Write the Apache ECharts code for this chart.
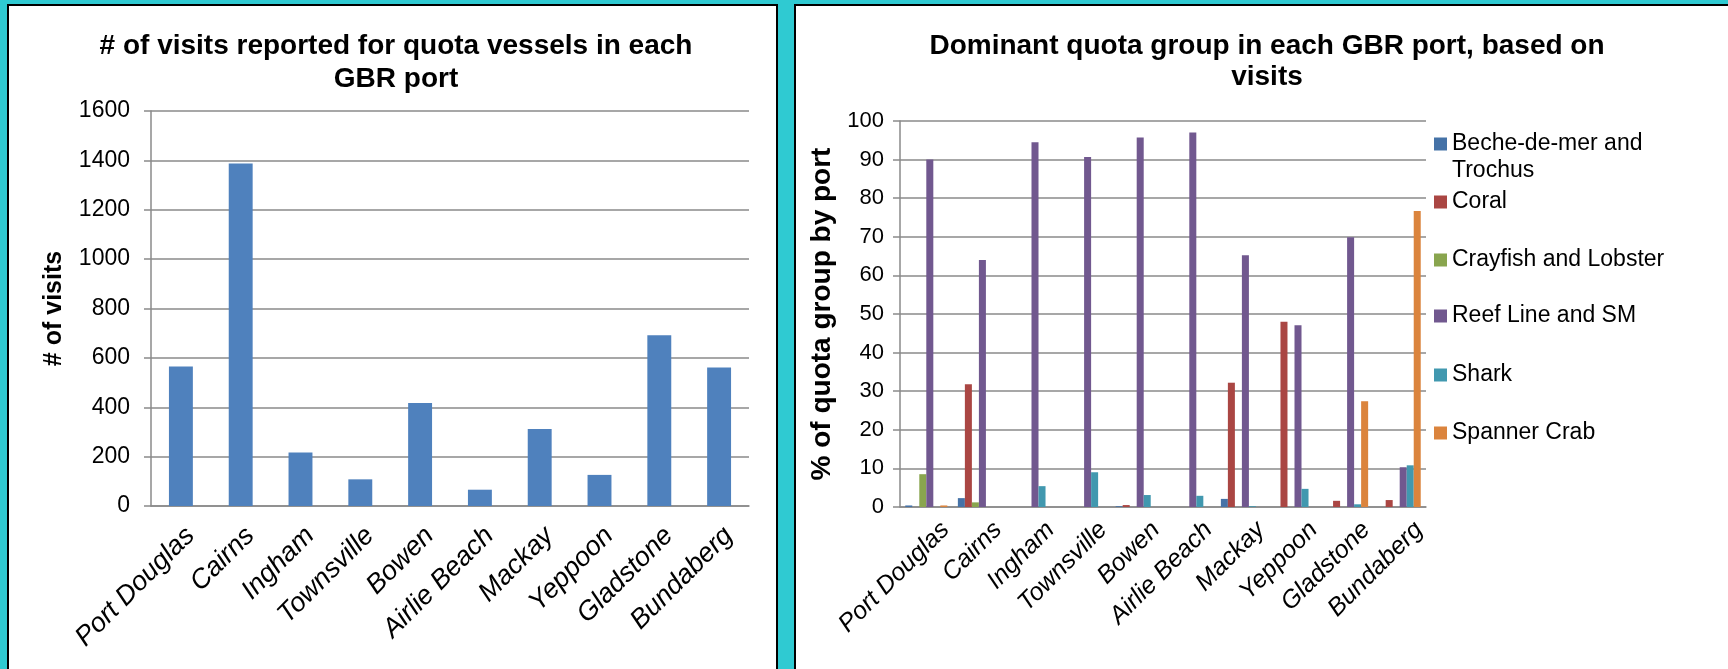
<!DOCTYPE html>
<html>
<head>
<meta charset="utf-8">
<script src="https://cdn.jsdelivr.net/npm/echarts@6/dist/echarts.min.js"></script>
<style>
  html, body { margin: 0; padding: 0; width: 1728px; height: 669px; overflow: hidden; background: #2FCAD2; }
  .panel { position: absolute; background: #fff; border: 2px solid #000; box-sizing: border-box; }
  #chart { position: absolute; left: 0; top: 0; width: 1728px; height: 669px; }
</style>
</head>
<body>
<div class="panel" style="left:7px; top:4px; width:771px; height:720px;"></div>
<div class="panel" style="left:794px; top:4px; width:980px; height:720px;"></div>
<div id="chart"></div>
<script>
// Ports along the Great Barrier Reef coast, north to south
const ports = ['Port Douglas', 'Cairns', 'Ingham', 'Townsville', 'Bowen', 'Airlie Beach', 'Mackay', 'Yeppoon', 'Gladstone', 'Bundaberg'];

// Number of visits reported for quota vessels per port
const visits = [565, 1387, 217, 108, 417, 66, 312, 126, 692, 561];

// Share (%) of visits per quota group, by port
const groupNames = ['Beche-de-mer and Trochus', 'Coral', 'Crayfish and Lobster', 'Reef Line and SM', 'Shark', 'Spanner Crab'];
const beche    = [0.4, 2.3, 0, 0, 0.2, 0, 2.1, 0, 0, 0];
const coral    = [0, 31.8, 0, 0, 0.5, 0, 32.2, 48.0, 1.6, 1.8];
const crayfish = [8.5, 1.2, 0, 0, 0, 0, 0, 0, 0, 0];
const reefLine = [90.0, 64.0, 94.5, 90.7, 95.7, 97.0, 65.2, 47.1, 69.9, 10.3];
const shark    = [0, 0, 5.4, 9.0, 3.1, 2.9, 0.2, 4.7, 0.7, 10.8];
const spanner  = [0.4, 0, 0, 0, 0, 0, 0, 0, 27.4, 76.7];
const groupValues = [beche, coral, crayfish, reefLine, shark, spanner];
const groupColors = ['#4572A7', '#AA4643', '#89A54E', '#71588F', '#4198AF', '#DB843D'];

const FONT = '"Liberation Sans", Arial, sans-serif';
const GRID_GRAY = '#8A8A8A';

function catAxis(gridIndex, fontSize, margin, lineHeight) {
  return {
    gridIndex, type: 'category', data: ports,
    axisLine: { lineStyle: { color: GRID_GRAY, width: 1.5 } },
    axisTick: { length: 7, lineStyle: { color: GRID_GRAY, width: 1.5 } },
    axisLabel: {
      rotate: 45, interval: 0, fontStyle: 'italic', fontSize, color: '#000', fontFamily: FONT,
      margin, verticalAlign: 'top', lineHeight
    }
  };
}
function valAxis(gridIndex, max, interval, fontSize, margin, name, nameGap, nameSize) {
  return {
    gridIndex, type: 'value', min: 0, max, interval,
    axisLine: { show: true, lineStyle: { color: GRID_GRAY, width: 1.5 } },
    axisTick: { show: true, length: 7, lineStyle: { color: GRID_GRAY, width: 1.5 } },
    splitLine: { lineStyle: { color: GRID_GRAY, width: 1.5 } },
    axisLabel: { fontSize, color: '#000', fontFamily: FONT, margin, formatter: v => String(v) },
    name, nameLocation: 'middle', nameGap,
    nameTextStyle: { fontSize: nameSize, fontWeight: 'bold', color: '#000', fontFamily: FONT }
  };
}

const series = [{
  type: 'bar', xAxisIndex: 0, yAxisIndex: 0, data: visits,
  barCategoryGap: '60%',
  itemStyle: { color: '#4F81BD' }
}];
groupNames.forEach((name, i) => {
  series.push({
    type: 'bar', name, xAxisIndex: 1, yAxisIndex: 1, data: groupValues[i],
    barGap: '0%', barCategoryGap: '20%',
    itemStyle: { color: groupColors[i] }
  });
});

// One legend block per quota group, stacked down the right-hand side
const legendRows = [144, 202, 260, 316, 375, 433];
const legends = groupNames.map((name, i) => ({
  show: true, orient: 'vertical', left: 1434, top: legendRows[i] - 12, padding: 0,
  itemWidth: 13, itemHeight: 13, icon: 'rect',
  data: [name],
  selectedMode: false,
  formatter: n => (n === 'Beche-de-mer and Trochus' ? 'Beche-de-mer and' : n),
  textStyle: { fontSize: 23, color: '#000', fontFamily: FONT, lineHeight: 24 }
}));

const option = {
  animation: false,
  title: [
    {
      text: '# of visits reported for quota vessels in each\nGBR port',
      left: 391, top: 25, textAlign: 'center',
      textStyle: { fontSize: 28, fontWeight: 'bold', color: '#000', fontFamily: FONT, lineHeight: 33 }
    },
    {
      text: 'Dominant quota group in each GBR port, based on\nvisits',
      left: 1262, top: 26, textAlign: 'center',
      textStyle: { fontSize: 28, fontWeight: 'bold', color: '#000', fontFamily: FONT, lineHeight: 31 }
    }
  ],
  legend: legends,
  graphic: [{
    type: 'text', left: 1452, top: 159,
    style: { text: 'Trochus', fontSize: 23, fill: '#000', fontFamily: FONT }
  }],
  grid: [
    { left: 151, top: 111, width: 598, height: 395 },
    { left: 900, top: 121, width: 526, height: 386 }
  ],
  xAxis: [catAxis(0, 27, 16, 27), catAxis(1, 25, 0, 54)],
  yAxis: [
    valAxis(0, 1600, 200, 23, 21, '# of visits', 84, 25),
    valAxis(1, 100, 10, 22, 16, '% of quota group by port', 64, 28)
  ],
  series
};

const chart = echarts.init(document.getElementById('chart'), null, { renderer: 'canvas' });
chart.setOption(option);
</script>
</body>
</html>
